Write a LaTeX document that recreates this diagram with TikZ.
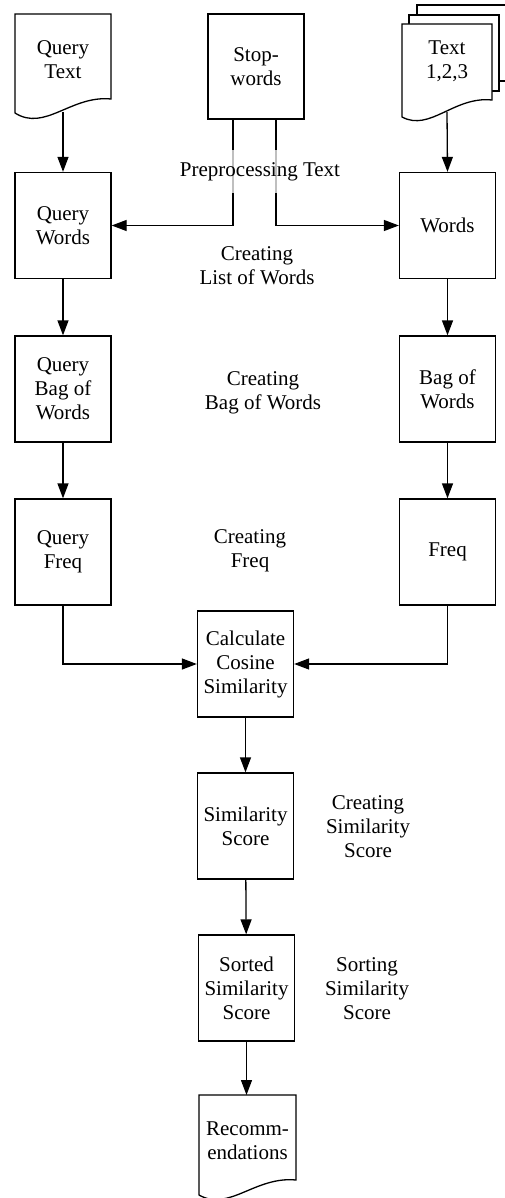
\documentclass[tikz,border=0pt]{standalone}
\usepackage{fontspec}
\setmainfont{Liberation Serif}
\usetikzlibrary{arrows.meta}
\begin{document}
\begin{tikzpicture}[x=1pt,y=-1pt,
  every node/.style={font=\fontsize{21}{24}\selectfont, align=center},
  box/.style={draw, line width=1.3pt, minimum width=96pt, minimum height=106pt, inner sep=0pt},
  doc/.style={draw, line width=1.3pt, fill=white},
  conn/.style={line width=1.3pt, -{Triangle[length=15pt,width=11pt]}},
  veil/.style={fill=white, fill opacity=0.75, text opacity=1, inner xsep=2pt, minimum height=43pt}
]
\useasboundingbox (0,0) rectangle (505,1198);

% document shapes
\draw[doc] (15,14) -- (111,14) -- (111,99) .. controls (71,95) and (45,132) .. (15,113) -- cycle;
\node (qt) at (63,60) {Query\\Text};
\coordinate (qtb) at (63,112);

\draw[doc] (417,5) rectangle (507,81);
\draw[doc] (409,15) rectangle (499,91);
\draw[doc] (402,24) -- (492,24) -- (492,100) .. controls (454,96) and (430,132) .. (402,117) -- cycle;
\node (tx) at (447,61) {Text\\1,2,3};
\coordinate (txb) at (447,112);

\draw[doc] (199,1095) -- (296,1095) -- (296,1180) .. controls (255,1176) and (229,1212) .. (199,1195) -- cycle;
\node (rec) at (247.5,1141) {Recomm-\\endations};
\coordinate (rectop) at (247.5,1095);

% boxes
\node[box, minimum height=105pt] (stop) at (256,66.5) {Stop-\\words};
\node[box] (qw) at (63,225.5) {Query\\Words};
\node[box] (w) at (447.5,225.5) {Words};
\node[box] (qb) at (63,389) {Query\\Bag of\\Words};
\node[box] (b) at (447.5,389) {Bag of\\Words};
\node[box] (qf) at (63,552) {Query\\Freq};
\node[box] (f) at (447.5,552) {Freq};
\node[box] (calc) at (245.5,664) {Calculate\\Cosine\\Similarity};
\node[box] (sim) at (245.5,826) {Similarity\\Score};
\node[box] (sort) at (246.5,988) {Sorted\\Similarity\\Score};

% connectors
\draw[conn] (qtb) -- (qw.north);
\draw[conn] (txb) -- (w.north);
\draw[conn] ([xshift=-23pt]stop.south) |- (qw.east);
\draw[conn] ([xshift=20pt]stop.south) |- (w.west);
\draw[conn] (qw) -- (qb);
\draw[conn] (w) -- (b);
\draw[conn] (qb) -- (qf);
\draw[conn] (b) -- (f);
\draw[conn] (qf.south) |- (calc.west);
\draw[conn] (f.south) |- (calc.east);
\draw[conn] (calc) -- (sim);
\draw[conn] (sim) -- (sort);
\draw[conn] (sort.south) -- (sort.south |- rectop);

% labels
\node[veil] (pre) at (260,171.5) {Preprocessing Text};
\node (l1) at (257,266) {Creating\\List of Words};
\node (l2) at (263,393) {Creating\\Bag of Words};
\node (l3) at (250,551) {Creating\\Freq};
\node (l4) at (368,827) {Creating\\Similarity\\Score};
\node (l5) at (367,989) {Sorting\\Similarity\\Score};
\end{tikzpicture}
\end{document}
